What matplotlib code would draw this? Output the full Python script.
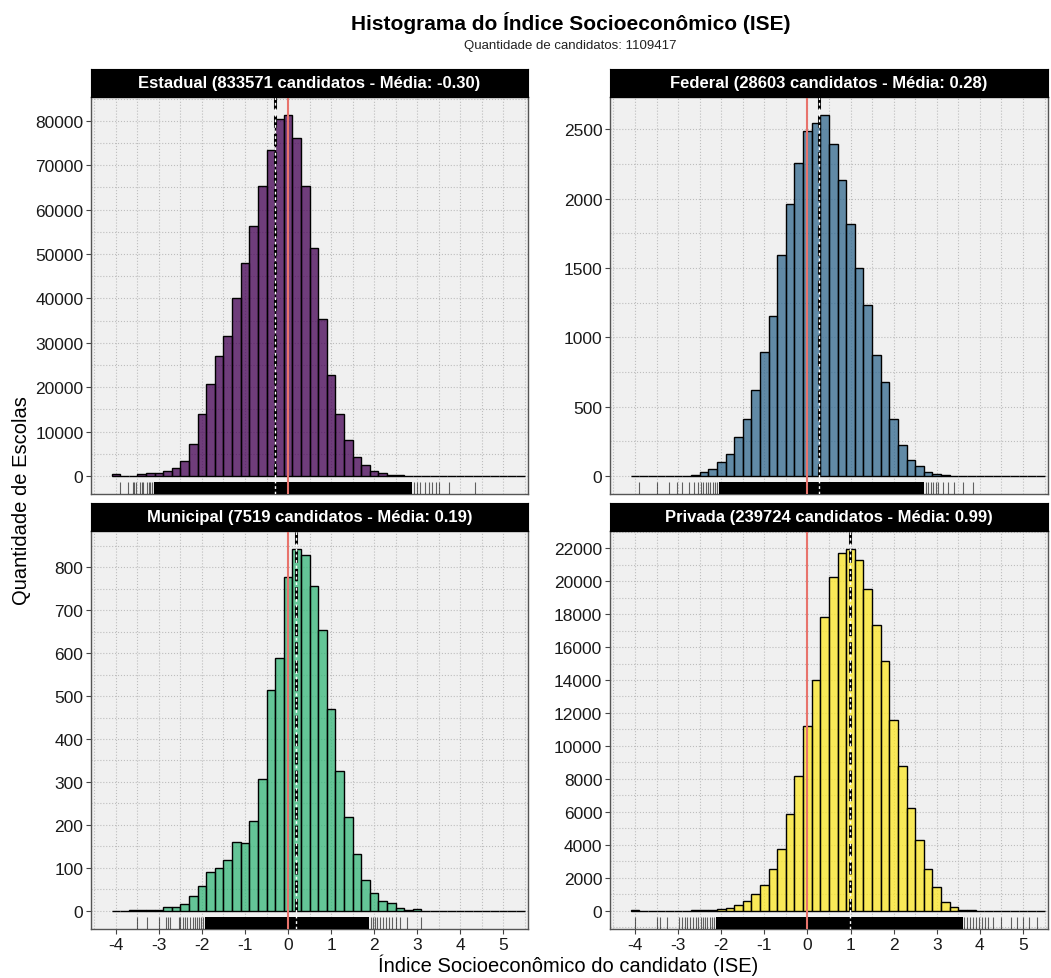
import matplotlib.pyplot as plt
import numpy as np
from matplotlib.colors import to_rgba
from matplotlib.ticker import MultipleLocator

plt.rcParams['font.family'] = ['Liberation Sans', 'DejaVu Sans']
plt.rcParams['axes.unicode_minus'] = False

# histogram bins: width 0.2, centres from -4.0 to 5.4
bin_centers = np.round(np.arange(-4.0, 5.41, 0.2), 1)

panels = ['Estadual', 'Federal', 'Municipal', 'Privada']
n_candidatos = [833571, 28603, 7519, 239724]
medias = [-0.30, 0.28, 0.19, 0.99]
total_candidatos = 1109417

estadual = [500, 50, 80, 370, 600, 670, 1050, 1870, 3430, 7160,
            13950, 20820, 27000, 31500, 40000, 48000, 56300, 65300, 73400, 80400,
            81300, 76100, 65400, 51300, 35300, 22800, 14000, 8200, 4330, 2390,
            1120, 600, 300, 100, 40, 20, 10, 0, 0, 0,
            0, 0, 0, 0, 0, 0, 0, 0]
federal = [0, 0, 0, 0, 0, 0, 2, 10, 25, 50,
           100, 160, 280, 411, 620, 895, 1150, 1590, 1960, 2260,
           2490, 2545, 2603, 2395, 2131, 1818, 1498, 1230, 871, 675,
           414, 225, 115, 69, 26, 14, 5, 0, 0, 0,
           0, 0, 0, 0, 0, 0, 0, 0]
municipal = [0, 0, 1, 1, 1, 2, 8, 8, 16, 35,
             57, 91, 99, 118, 161, 159, 210, 307, 514, 588,
             776, 842, 828, 756, 654, 469, 326, 219, 133, 72,
             42, 22, 19, 6, 1, 4, 0, 0, 0, 0,
             0, 0, 0, 0, 0, 0, 0, 0]
privada = [30, 10, 10, 20, 15, 15, 20, 30, 40, 60,
           121, 181, 342, 604, 1027, 1570, 2516, 3744, 5898, 8172,
           11212, 14030, 17815, 20270, 21680, 21940, 21300, 19545, 17312, 15138,
           11554, 8757, 6240, 4288, 2556, 1449, 543, 262, 80, 40,
           20, 10, 5, 2, 0, 0, 0, 20]
counts = [estadual, federal, municipal, privada]

# rug: densely covered range plus the isolated marks in the tails
rug_dense = [(-3.11, 2.88), (-2.05, 2.71), (-1.92, 1.88), (-2.13, 3.60)]
rug_tails = [
    [-3.91, -3.71, -3.60, -3.57, -3.53, -3.45, -3.40, -3.36, -3.29, -3.24, -3.20,
     -3.16, -3.12, 2.94, 3.00, 3.08, 3.19, 3.27, 3.35, 3.43, 3.50, 3.74, 4.34],
    [-3.91, -3.48, -3.21, -3.02, -2.92, -2.75, -2.63, -2.55, -2.48, -2.42, -2.36,
     -2.30, -2.25, -2.20, -2.15, -2.10, 2.75, 2.80, 2.86, 2.92, 2.98, 3.04, 3.15,
     3.27, 3.39, 3.60, 3.83],
    [-3.51, -3.28, -2.99, -2.83, -2.79, -2.74, -2.54, -2.50, -2.45, -2.40, -2.35,
     -2.27, -2.22, -2.17, -2.12, -2.07, -2.02, -1.97, 1.93, 1.97, 2.02, 2.08, 2.14,
     2.20, 2.27, 2.35, 2.42, 2.50, 2.60, 2.77, 3.10],
    [-3.99, -3.50, -3.41, -3.25, -2.98, -2.90, -2.85, -2.79, -2.72, -2.66, -2.59,
     -2.53, -2.47, -2.42, -2.37, -2.32, -2.27, -2.22, -2.17, 3.64, 3.70, 3.76, 3.83,
     3.90, 3.97, 4.05, 4.12, 4.20, 4.30, 4.49, 4.72, 4.87, 4.99, 5.15, 5.33],
]

colors = ['#440154', '#31688E', '#35B779', '#FDE725']
y_steps = [10000, 500, 100, 2000]
x_ticks = [-4, -3, -2, -1, 0, 1, 2, 3, 4, 5]


def plot_panel(fig, rect, i, show_x):
    ax = fig.add_axes(rect)
    ax.set_facecolor('#F0F0F0')
    ax.set_axisbelow(True)

    ax.bar(bin_centers, counts[i], width=0.2, facecolor=to_rgba(colors[i], 0.75),
           edgecolor='black', linewidth=1.0, zorder=2)

    lo, hi = rug_dense[i]
    ax.axvspan(lo, hi, ymin=0, ymax=0.03, color='black', lw=0, zorder=3)
    ax.vlines(rug_tails[i], 0, 0.03, transform=ax.get_xaxis_transform(),
              color='black', alpha=0.6, linewidth=0.8, zorder=3)

    ax.axvline(0, color='#E8736C', linewidth=1.5, zorder=4)
    ax.axvline(medias[i], color='black', linewidth=2.2, linestyle=(0, (4, 2)), zorder=5)
    ax.axvline(medias[i], color='white', linewidth=1.0, linestyle=(0, (2, 2)), zorder=6)

    ymax = max(counts[i])
    ax.set_ylim(-0.05 * ymax, 1.05 * ymax)
    ax.set_xlim(-4.58, 5.58)
    ax.set_xticks(x_ticks)
    ax.xaxis.set_minor_locator(MultipleLocator(0.5))
    ax.yaxis.set_major_locator(MultipleLocator(y_steps[i]))
    ax.yaxis.set_minor_locator(MultipleLocator(y_steps[i] / 2))
    ax.grid(which='both', color='#BDBDBD', linestyle=':', linewidth=0.8)

    ax.tick_params(which='major', length=3.5, width=0.8, color='#444444',
                   labelsize=12.5, labelcolor='#1A1A1A', pad=2)
    ax.tick_params(which='minor', length=0)
    if not show_x:
        ax.tick_params(axis='x', which='both', bottom=False, labelbottom=False)
    for s in ax.spines.values():
        s.set_color('#555555')
        s.set_linewidth(1.0)

    # facet strip
    sx, sy, sw, sh = rect
    strip = fig.add_axes([sx, sy + sh, sw, 0.029])
    strip.set_facecolor('black')
    strip.set_xticks([])
    strip.set_yticks([])
    strip.text(0.5, 0.5, f'{panels[i]} ({n_candidatos[i]} candidatos - Média: {medias[i]:.2f})',
               color='white', fontsize=12, fontweight='bold', ha='center', va='center',
               transform=strip.transAxes)
    return ax


def main():
    fig = plt.figure(figsize=(10.51, 9.79), dpi=100)

    rects = [
        [0.0866, 0.4944, 0.4158, 0.4055],
        [0.5804, 0.4944, 0.4167, 0.4055],
        [0.0866, 0.0501, 0.4158, 0.4065],
        [0.5804, 0.0501, 0.4167, 0.4065],
    ]
    for i, rect in enumerate(rects):
        plot_panel(fig, rect, i, show_x=i >= 2)

    fig.text(0.543, 0.977, 'Histograma do Índice Socioeconômico (ISE)',
             fontsize=15, fontweight='bold', ha='center', va='center')
    fig.text(0.543, 0.953, f'Quantidade de candidatos: {total_candidatos}',
             fontsize=9.5, ha='center', va='center', color='#222222')
    fig.text(0.541, 0.014, 'Índice Socioeconômico do candidato (ISE)',
             fontsize=14.5, ha='center', va='center')
    fig.text(0.02, 0.489, 'Quantidade de Escolas', fontsize=14.5,
             rotation=90, ha='center', va='center')

    fig.savefig('out.png', dpi=100)


if __name__ == "__main__":
    main()
